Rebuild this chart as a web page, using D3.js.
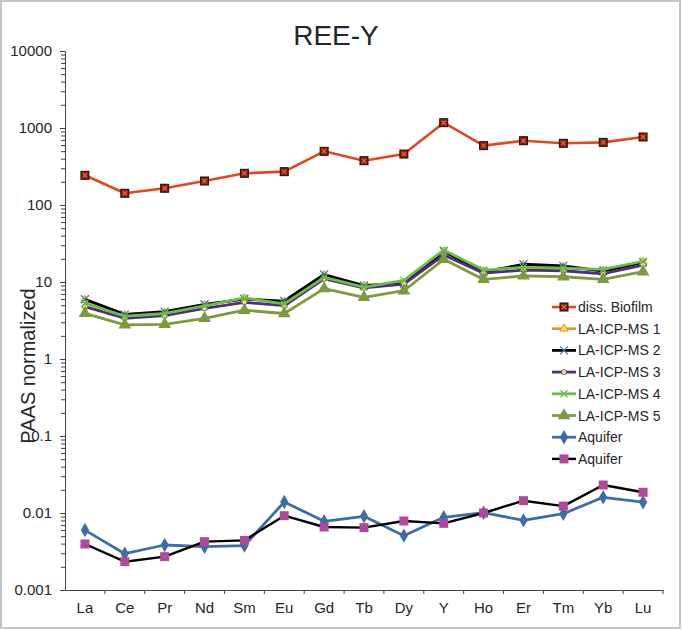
<!DOCTYPE html>
<html><head><meta charset="utf-8">
<script src="https://cdn.jsdelivr.net/npm/d3@7"></script>
<style>body{margin:0;background:#fff}svg{display:block}text{font-family:"Liberation Sans",Arial,sans-serif}</style>
</head><body><svg id="c" width="682" height="631"></svg>
<script>
const categories = ["La","Ce","Pr","Nd","Sm","Eu","Gd","Tb","Dy","Y","Ho","Er","Tm","Yb","Lu"];
const yTickValues = [0.001,0.01,0.1,1,10,100,1000,10000];
const yTickLabels = ["0.001","0.01","0.1","1","10","100","1000","10000"];
const seriesNames = ["diss. Biofilm","LA-ICP-MS 1","LA-ICP-MS 2","LA-ICP-MS 3","LA-ICP-MS 4","LA-ICP-MS 5","Aquifer","Aquifer"];
const dissBiofilm = [243,142,165,205,258,271,498,376,459,1172,590,684,633,651,764];
const laIcpMs1 = [5.8,3.7,4.0,5.0,6.1,5.5,12.2,8.9,9.6,25,13.8,16.5,15.8,14.0,18.3];
const laIcpMs2 = [5.96,3.8,4.12,5.13,6.0,5.66,12.5,9.0,9.5,25,13.5,17.0,16.2,13.8,18.0];
const laIcpMs3 = [4.78,3.38,3.65,4.55,5.45,4.92,11.0,8.4,9.4,22.4,13.0,14.3,14.0,12.8,16.6];
const laIcpMs4 = [5.3,3.6,3.9,4.9,6.2,5.2,11.5,8.6,10.5,26,14.3,15.5,15.1,14.6,18.6];
const laIcpMs5 = [3.92,2.77,2.82,3.38,4.3,3.9,8.2,6.3,7.7,19.7,10.8,12.0,11.7,10.8,13.6];
const aquifer1 = [0.0060,0.00296,0.00384,0.00365,0.00377,0.0139,0.0078,0.00906,0.00508,0.00879,0.0101,0.00803,0.0098,0.016,0.0138];
const aquifer2 = [0.00396,0.00233,0.00271,0.00425,0.00441,0.00923,0.00658,0.00646,0.00787,0.00734,0.0100,0.01445,0.0123,0.0231,0.0186];

const svg = d3.select("#c");
svg.append("rect").attr("x",1).attr("y",1).attr("width",679).attr("height",627)
  .attr("fill","#fff").attr("stroke","#c4c4c4").attr("stroke-width",2);

const L=65,R=663,T=51,B=590;
const x = d3.scaleBand().domain(categories).range([L,R]).padding(0);
const cx = c => x(c)+x.bandwidth()/2;
const y = d3.scaleLog().domain([0.001,10000]).range([B,T]);
const axisColor="#404040";

// y axis
const minor=[];
for(let e=-3;e<4;e++) for(let m=2;m<=9;m++) minor.push(m*Math.pow(10,e));
const yAxis = svg.append("g").attr("transform",`translate(${L},0)`)
  .call(d3.axisLeft(y).tickValues(yTickValues).tickFormat((d,i)=>yTickLabels[i]).tickSize(5).tickPadding(8));
svg.append("g").attr("transform",`translate(${L},0)`)
  .call(d3.axisLeft(y).tickValues(minor).tickFormat("").tickSize(4))
  .call(g=>g.select(".domain").remove());
svg.selectAll(".tick line, .domain").attr("stroke",axisColor);
yAxis.selectAll("text").attr("font-size",15).attr("fill","#262626").attr("font-family","Liberation Sans, Arial");

// x axis
const xAxis = svg.append("g").attr("transform",`translate(0,${B})`)
  .call(d3.axisBottom(x).tickSize(0).tickSizeOuter(0).tickPadding(12));
xAxis.select(".domain").attr("stroke",axisColor);
xAxis.selectAll("text").attr("font-size",15).attr("fill","#262626").attr("font-family","Liberation Sans, Arial");
svg.append("g").selectAll("line").data(categories.slice(1).concat(["__end"])).join("line")
  .attr("x1",d=>d==="__end"?R:x(d)).attr("x2",d=>d==="__end"?R:x(d))
  .attr("y1",B).attr("y2",B+4).attr("stroke",axisColor);

// title and y label
svg.append("text").attr("x",336).attr("y",45).attr("text-anchor","middle")
  .attr("font-size",28).attr("fill","#262626").text("REE-Y");
svg.append("text").attr("transform","translate(35,366) rotate(-90)").attr("text-anchor","middle")
  .attr("font-size",20).attr("fill","#262626").text("PAAS normalized");

const sym = (type,size)=>d3.symbol().type(type).size(size)();
function drawMarker(g, kind){
  switch(kind){
    case "bio":
      g.append("rect").attr("x",-4).attr("y",-4).attr("width",8).attr("height",8)
        .attr("fill","#7a2414").attr("stroke","#2b0b04").attr("stroke-width",1);
      g.append("path").attr("d","M-2,-2L2,2M-2,2L2,-2").attr("stroke","#ff5a2a").attr("stroke-width",1.3);
      break;
    case "tri1":
      g.append("path").attr("d",sym(d3.symbolTriangle,30)).attr("fill","#ffe14a").attr("stroke","#f28c28").attr("stroke-width",1);
      break;
    case "x2":
      g.append("path").attr("d","M-4,-4L4,4M-4,4L4,-4").attr("stroke","#4a7ab5").attr("stroke-width",1.3);
      break;
    case "circ":
      g.append("circle").attr("r",2.6).attr("fill","#f3e36a").attr("stroke","#5a3e8a").attr("stroke-width",0.8);
      break;
    case "x4":
      g.append("path").attr("d","M-3.5,-3.5L3.5,3.5M-3.5,3.5L3.5,-3.5").attr("stroke","#6cbd45").attr("stroke-width",1.3);
      break;
    case "tri5":
      g.append("path").attr("d",sym(d3.symbolTriangle,70)).attr("fill","#7d9a3c");
      break;
    case "dia":
      g.append("path").attr("d",sym(d3.symbolDiamond,60)).attr("fill","#3c6ea6");
      break;
    case "sq":
      g.append("rect").attr("x",-4.5).attr("y",-4.5).attr("width",9).attr("height",9).attr("fill","#b0489b");
      break;
  }
}

const series = [
  {name:seriesNames[0], data:dissBiofilm, color:"#e4461f", w:2.6, m:"bio"},
  {name:seriesNames[1], data:laIcpMs1, color:"#f28c28", w:2.6, m:"tri1"},
  {name:seriesNames[2], data:laIcpMs2, color:"#000000", w:2.8, m:"x2"},
  {name:seriesNames[3], data:laIcpMs3, color:"#4b2e83", w:2.8, m:"circ"},
  {name:seriesNames[4], data:laIcpMs4, color:"#6cbd45", w:2.8, m:"x4"},
  {name:seriesNames[5], data:laIcpMs5, color:"#7d9a3c", w:2.8, m:"tri5"},
  {name:seriesNames[6], data:aquifer1, color:"#3c6ea6", w:2.8, m:"dia"},
  {name:seriesNames[7], data:aquifer2, color:"#000000", w:2.4, m:"sq"}
];

const line = d3.line().x((d,i)=>cx(categories[i])).y(d=>y(d));
series.forEach(s=>{
  const g = svg.append("g");
  g.append("path").attr("d",line(s.data)).attr("fill","none").attr("stroke",s.color)
    .attr("stroke-width",s.w).attr("stroke-linejoin","round");
  s.data.forEach((v,i)=>{
    const mg = g.append("g").attr("transform",`translate(${cx(categories[i])},${y(v)})`);
    drawMarker(mg,s.m);
  });
});

// legend
const lg = svg.append("g");
series.forEach((s,i)=>{
  const yy = 307 + i*21.7;
  const r = lg.append("g").attr("transform",`translate(552,${yy})`);
  r.append("line").attr("x1",0).attr("x2",24).attr("y1",0).attr("y2",0).attr("stroke",s.color).attr("stroke-width",s.w);
  const mg = r.append("g").attr("transform","translate(12,0)");
  drawMarker(mg,s.m);
  r.append("text").attr("x",26).attr("y",5).attr("font-size",14).attr("fill","#262626").text(s.name);
});
</script></body></html>
